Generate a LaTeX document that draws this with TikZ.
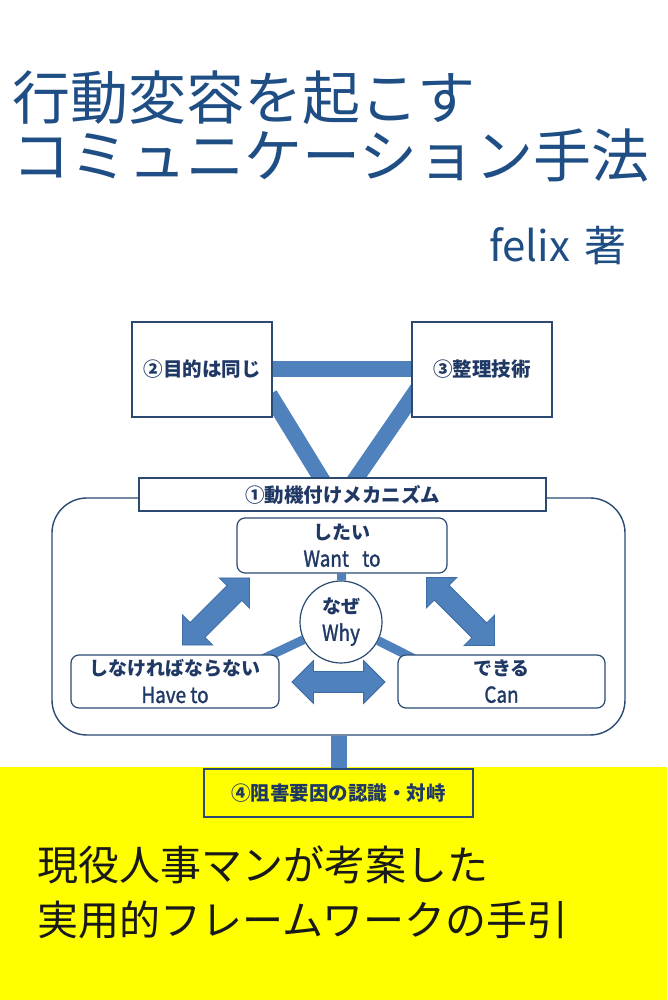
\documentclass[tikz,border=0pt]{standalone}
\usepackage{fontspec}
\setmainfont{Noto Sans CJK JP}
\newfontfamily\narrowfont{Noto Sans CJK JP}[FakeStretch=0.86, FakeBold=1.3]
\usepackage{xcolor}
\usepackage{tikz}
\usetikzlibrary{calc}
\usetikzlibrary{shapes.arrows}
\definecolor{navy}{HTML}{1F3864}
\definecolor{titleblue}{HTML}{1F4E85}
\definecolor{barblue}{HTML}{4F81BD}
\definecolor{arrowedge}{HTML}{3C6AA3}
\definecolor{edgeblue}{HTML}{2B4A72}
\definecolor{coveryellow}{HTML}{FFFF00}
\pgfdeclarelayer{back}
\pgfdeclarelayer{bars}
\pgfsetlayers{back,bars,main}
\tikzstyle{titletext} = [text=titleblue, font=\fontsize{58}{58}\selectfont, inner sep=0pt]
\tikzstyle{subtext} = [text=black!90, font=\fontsize{41}{44}\selectfont, inner sep=0pt]
\tikzstyle{keybox} = [draw=edgeblue, fill=white, line width=1.4pt, text=navy,
font=\fontsize{19.5}{24}\selectfont\bfseries]
\tikzstyle{motivebox} = [draw=edgeblue, fill=white, line width=1.2pt, rounded corners=8pt,
text=navy, align=center, inner sep=0pt, font=\fontsize{19}{27}\selectfont]
\tikzstyle{bar} = [draw=barblue, line width=16pt]
\tikzstyle{thinbar} = [draw=barblue, line width=9pt]
\tikzstyle{dblarrow} = [double arrow, fill=barblue, draw=arrowedge, line width=0.8pt,
inner xsep=0pt, inner ysep=10pt, double arrow head extend=11pt]
\newcommand{\eng}[1]{{\narrowfont\fontsize{22}{27}\selectfont #1}}

\begin{document}
\begin{tikzpicture}[x=1pt,y=1pt]
    \begin{pgfonlayer}{back}
        \fill[white] (0,0) rectangle (667,1000);
        \useasboundingbox (0,0) rectangle (667,1000);
        \fill[coveryellow] (0,0) rectangle (667,233);
        \node[draw=edgeblue, fill=white, line width=1.4pt, rounded corners=35pt,
            minimum width=573pt, minimum height=237pt, inner sep=0pt] (frame) at (338.5,383.5) {};
    \end{pgfonlayer}

    % title
    \node[titletext, anchor=west] (title1) at (12,902) {行動変容を起こす};
    \node[titletext, anchor=west] (title2) at (12,844) {コミュニケーション手法};
    \node[titletext, font=\fontsize{42}{42}\selectfont, anchor=east] (author) at (627,754) {felix\hspace{0.35em}著};

    % upper triangle
    \node[keybox, minimum width=140pt, minimum height=95pt] (goal) at (202,630.5) {②目的は同じ};
    \node[keybox, minimum width=140pt, minimum height=95pt] (tech) at (482,630.5) {③整理技術};
    \node[keybox, minimum width=407pt, minimum height=33pt, inner sep=0pt] (mech) at (342.5,505.5) {①動機付けメカニズム};

    % motivation
    \node[motivebox, minimum width=210pt, minimum height=55pt] (want) at (342,454.5) {{\bfseries したい}\\\eng{Want\hspace{0.6em}to}};
    \node[motivebox, circle, rounded corners=0pt, minimum size=82pt] (why) at (341,378) {{\bfseries なぜ}\\\eng{Why}};
    \node[motivebox, minimum width=208pt, minimum height=53pt] (have) at (175,318.5) {{\bfseries しなければならない}\\\eng{Have to}};
    \node[motivebox, minimum width=207pt, minimum height=53pt] (can) at (501.5,318.5) {{\bfseries できる}\\\eng{Can}};
    \node[dblarrow, rotate=45, minimum height=95pt] (arrL) at (216,388.5) {};
    \node[dblarrow, rotate=-45, minimum height=96pt] (arrR) at (460.5,388.5) {};
    \node[dblarrow, minimum height=93pt] (arrM) at (338.5,318) {};

    \node[keybox, fill=coveryellow, minimum width=269pt, minimum height=48pt] (obst) at (338.5,207) {④阻害要因の認識・対峙};

    % subtitle
    \node[subtext, anchor=west] (sub1) at (37,135) {現役人事マンが考案した};
    \node[subtext, anchor=west] (sub2) at (37,80) {実用的フレームワークの手引};

    \begin{pgfonlayer}{bars}
        \draw[bar] (goal) -- (tech);
        \draw[bar] ($(goal.east)+(-3,-25)$) -- ($(mech.north)+(-19.5,-4)$);
        \draw[bar] ($(tech.west)+(9,-15.5)$) -- ($(mech.north)+(11.5,-4)$);
        \draw[bar] (frame.south) -- ($(obst.north)+(0,-4)$);
        \draw[thinbar] (want) -- (why);
        \draw[thinbar] (why) -- ($(have.north east)+(-20,-6)$);
        \draw[thinbar] (why) -- ($(can.north west)+(20,-6)$);
    \end{pgfonlayer}
\end{tikzpicture}
\end{document}
